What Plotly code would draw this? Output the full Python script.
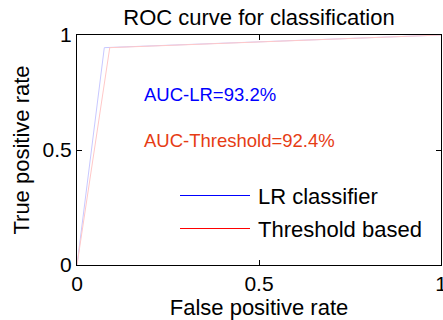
import plotly.graph_objects as go

fpr_lr = [0, 0.075, 1.0]
tpr_lr = [0, 0.945, 1.0]
fpr_th = [0, 0.09, 1.0]
tpr_th = [0, 0.945, 1.0]
x_ticks = [0, 0.5, 1]
x_tick_labels = ["0", "0.5", "1"]
y_ticks = [0, 0.5, 1]
y_tick_labels = ["0", "0.5", "1"]
legend_names = ["LR classifier", "Threshold based"]
auc_texts = ["AUC-LR=93.2%", "AUC-Threshold=92.4%"]

FONT = "Liberation Sans, Arial, Helvetica, sans-serif"

fig = go.Figure()
fig.add_trace(go.Scatter(x=fpr_lr, y=tpr_lr, mode="lines",
                         line=dict(color="rgb(200,200,255)", width=1),
                         showlegend=False))
fig.add_trace(go.Scatter(x=fpr_th, y=tpr_th, mode="lines",
                         line=dict(color="rgb(255,200,200)", width=1),
                         showlegend=False))

W, H = 443, 320
L, R, T, B = 77, 2, 35, 55
pw, ph = W - L - R, H - T - B

def px(xp):
    return (xp - L) / pw

def py(yp):
    return (H - B - yp) / ph

# manual legend
leg_colors = ["rgb(0,0,255)", "rgb(255,0,0)"]
leg_y = [195.5, 228.5]
for name, col, yy in zip(legend_names, leg_colors, leg_y):
    fig.add_shape(type="line", xref="paper", yref="paper",
                  x0=px(180), x1=px(250), y0=py(yy), y1=py(yy),
                  line=dict(color=col, width=1))
    fig.add_annotation(xref="paper", yref="paper", x=px(256), y=py(yy + 1),
                       text=name, showarrow=False, xanchor="left", yanchor="middle",
                       font=dict(family=FONT, size=22, color="black"))

auc_colors = ["rgb(0,0,255)", "rgb(230,60,20)"]
auc_y = [94, 140]
for t, col, yy in zip(auc_texts, auc_colors, auc_y):
    fig.add_annotation(xref="paper", yref="paper", x=px(142), y=py(yy),
                       text=t, showarrow=False, xanchor="left", yanchor="middle",
                       font=dict(family=FONT, size=18.5, color=col))

axis_common = dict(showgrid=False, zeroline=False, showline=True, linecolor="black",
                   linewidth=1, mirror="ticks", ticks="inside", ticklen=5,
                   tickcolor="black", range=[0, 1], ticklabeloverflow="allow",
                   automargin=False,
                   tickfont=dict(family=FONT, size=21, color="black"))

fig.update_xaxes(**axis_common, tickvals=x_ticks, ticktext=x_tick_labels,
                 title=dict(text="False positive rate", standoff=2,
                            font=dict(family=FONT, size=22, color="black")))
fig.update_yaxes(**axis_common, tickvals=y_ticks, ticktext=y_tick_labels,
                 title=dict(text="True positive rate", standoff=6,
                            font=dict(family=FONT, size=22, color="black")))

fig.update_layout(
    width=W, height=H,
    margin=dict(l=L, r=R, t=T, b=B),
    paper_bgcolor="white", plot_bgcolor="white",
    title=dict(text="ROC curve for classification", x=(L + pw / 2) / W, xanchor="center",
               y=1 - 17 / H, yanchor="middle",
               font=dict(family=FONT, size=22, color="black")),
    showlegend=False,
)

fig.write_html("out.html")
